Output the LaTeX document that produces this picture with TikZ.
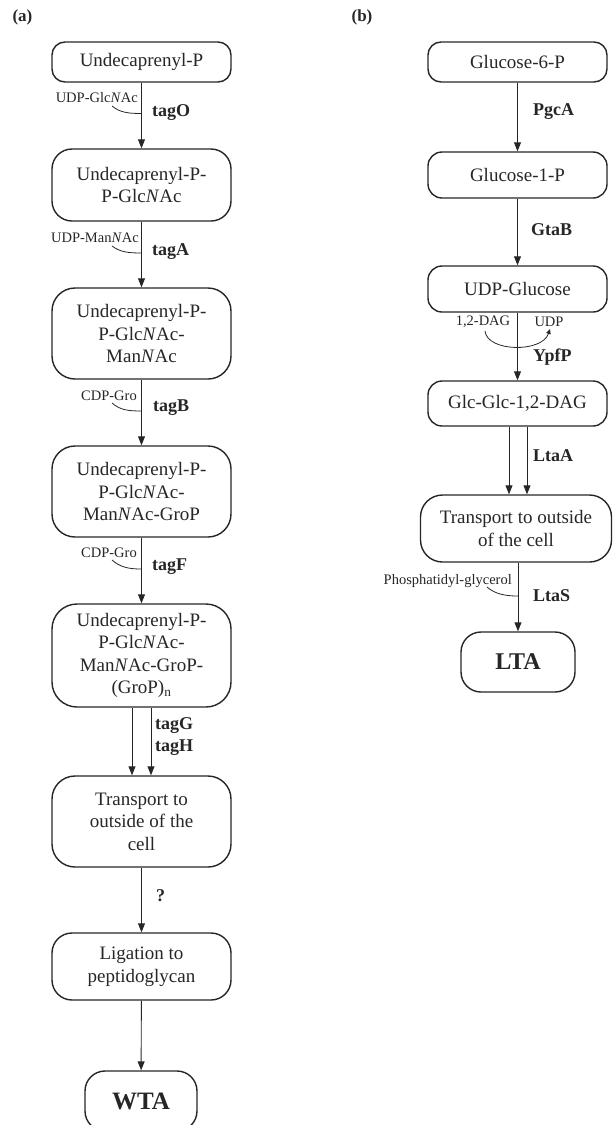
\documentclass[tikz,border=0pt]{standalone}
\usepackage{fontspec}
\setmainfont{Liberation Serif}
\usetikzlibrary{arrows.meta}
\begin{document}
\begin{tikzpicture}[x=1pt,y=-1pt,
 box/.style={draw=black!85, line width=1.4pt, align=center, inner sep=0pt, text=black!85, font=\fontsize{19}{22.5}\selectfont},
 conn/.style={draw=black!85, line width=0.9pt, -{Triangle[length=9pt,width=7pt]}},
 enz/.style={font=\fontsize{18}{21}\selectfont\bfseries, anchor=west, inner sep=0pt, text=black!85},
 sub/.style={font=\fontsize{14.5}{16}\selectfont, anchor=east, inner sep=0pt, text=black!85},
 small/.style={font=\fontsize{14.5}{16}\selectfont, inner sep=0pt, text=black!85},
 side/.style={draw=black!85, line width=0.8pt},
 panel/.style={font=\fontsize{17}{20}\selectfont\bfseries, inner sep=0pt, text=black!85},
]
\clip (0,0) rectangle (613,1125);

% panel labels
\node[panel] (pa) at (22.5,17) {(a)};
\node[panel] (pb) at (362,17) {(b)};

% ---------- (a) ----------
\node[box, minimum width=179pt, minimum height=40pt, rounded corners=13pt] (a1) at (141.5,62) {Undecaprenyl-P};
\node[box, minimum width=179pt, minimum height=72pt, rounded corners=20pt] (a2) at (141.5,185) {Undecaprenyl-P-\\P-Glc\textit{N}Ac};
\node[box, minimum width=179pt, minimum height=91pt, rounded corners=23pt] (a3) at (141.5,333.5) {Undecaprenyl-P-\\P-Glc\textit{N}Ac-\\Man\textit{N}Ac};
\node[box, minimum width=179pt, minimum height=91pt, rounded corners=23pt] (a4) at (141.5,491.5) {Undecaprenyl-P-\\P-Glc\textit{N}Ac-\\Man\textit{N}Ac-GroP};
\node[box, minimum width=179pt, minimum height=103pt, rounded corners=25pt] (a5) at (141.5,655.5) {Undecaprenyl-P-\\P-Glc\textit{N}Ac-\\Man\textit{N}Ac-GroP-\\(GroP)\textsubscript{n}};
\node[box, minimum width=179pt, minimum height=91pt, rounded corners=23pt] (a6) at (141.5,821.5) {Transport to\\outside of the\\cell};
\node[box, minimum width=179pt, minimum height=67pt, rounded corners=20pt] (a7) at (141.5,966.5) {Ligation to\\peptidoglycan};
\node[box, minimum width=112pt, minimum height=60pt, rounded corners=20pt, font=\fontsize{25}{28}\selectfont\bfseries] (wta) at (141,1101) {WTA};

\draw[conn] (a1) -- (a2);
\draw[conn] (a2) -- (a3);
\draw[conn] (a3) -- (a4);
\draw[conn] (a4) -- (a5);
\draw[conn] ([xshift=-9.5pt]a5.south) -- ([xshift=-9.5pt]a6.north);
\draw[conn] ([xshift=9.5pt]a5.south) -- ([xshift=9.5pt]a6.north);
\draw[conn] (a6) -- (a7);
\draw[conn] (a7) -- (wta);

% enzymes (a)
\node[enz] (tO) at (152,113) {tagO};
\node[enz] (tA) at (152,252) {tagA};
\node[enz] (tB) at (153,408) {tagB};
\node[enz] (tF) at (152,567) {tagF};
\node[enz] (tG) at (155,726) {tagG};
\node[enz] (tH) at (155,748) {tagH};
\node[enz] (tq) at (156,896) {?};

% substrates (a)
\node[sub] (sO) at (138,98) {UDP-Glc\textit{N}Ac};
\node[sub] (sA) at (139,238) {UDP-Man\textit{N}Ac};
\node[sub] (sB) at (137,396) {CDP-Gro};
\node[sub] (sF) at (137,553) {CDP-Gro};

\coordinate (cO1) at (112,106); \coordinate (cO2) at (141.5,113.5);
\coordinate (cA1) at (112,246); \coordinate (cA2) at (141.5,253);
\coordinate (cB1) at (112,403); \coordinate (cB2) at (141.5,411);
\coordinate (cF1) at (112,560); \coordinate (cF2) at (141.5,569);
\draw[side] (cO1) .. controls (120,112.5) and (128,113.5) .. (cO2);
\draw[side] (cA1) .. controls (120,252) and (128,253) .. (cA2);
\draw[side] (cB1) .. controls (120,410) and (128,411) .. (cB2);
\draw[side] (cF1) .. controls (120,567) and (128,569) .. (cF2);

% ---------- (b) ----------
\node[box, minimum width=179pt, minimum height=40pt, rounded corners=13pt] (b1) at (517.5,62) {Glucose-6-P};
\node[box, minimum width=179pt, minimum height=46pt, rounded corners=14pt] (b2) at (517.5,175) {Glucose-1-P};
\node[box, minimum width=179pt, minimum height=46pt, rounded corners=14pt] (b3) at (517.5,289) {UDP-Glucose};
\node[box, minimum width=179pt, minimum height=45pt, rounded corners=14pt] (b4) at (517.5,403.5) {Glc-Glc-1,2-DAG};
\node[box, minimum width=191pt, minimum height=67pt, rounded corners=22pt] (b5) at (516,528.5) {Transport to outside\\of the cell};
\node[box, minimum width=114pt, minimum height=60pt, rounded corners=20pt, font=\fontsize{24}{28}\selectfont\bfseries] (lta) at (518,662) {LTA};

\draw[conn] (b1) -- (b2);
\draw[conn] (b2) -- (b3);
\draw[conn] (b3) -- (b4);
\draw[conn] ([xshift=-8.5pt]b4.south) -- ([xshift=-7pt]b5.north);
\draw[conn] ([xshift=9.5pt]b4.south) -- ([xshift=11pt]b5.north);
\draw[conn] ([xshift=2pt]b5.south) -- (lta);

% enzymes (b)
\node[enz] (ePgcA) at (533,112) {PgcA};
\node[enz] (eGtaB) at (531,230) {GtaB};
\node[enz] (eYpfP) at (533,357) {YpfP};
\node[enz] (eLtaA) at (533,456) {LtaA};
\node[enz] (eLtaS) at (533,596) {LtaS};

% substrates (b)
\node[small] (dag) at (483,322) {1,2-DAG};
\node[small] (udp) at (549,322) {UDP};
\node[sub] (pg) at (512,581) {Phosphatidyl-glycerol};

\coordinate (y1) at (485,331); \coordinate (y2) at (550,329);
\draw[side, -{Triangle[length=5pt,width=4.5pt]}] (y1) .. controls (487,352) and (542,353) .. (y2);
\coordinate (cS1) at (487,587); \coordinate (cS2) at (518,596);
\draw[side] (cS1) .. controls (495,594) and (505,596) .. (cS2);
\end{tikzpicture}
\end{document}
